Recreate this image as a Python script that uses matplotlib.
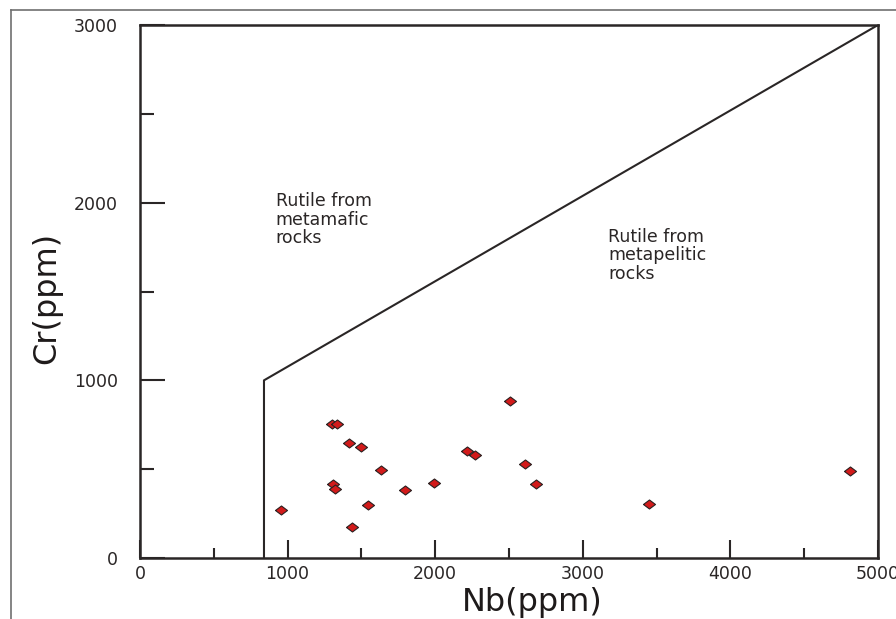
import matplotlib.pyplot as plt
from matplotlib.lines import Line2D

plt.rcParams['font.family'] = ['DejaVu Sans']

# data
nb = [955, 1303, 1332, 1418, 1500, 1630, 1310, 1323, 1547, 1439,
      1797, 1992, 2215, 2270, 2507, 2611, 2683, 3451, 4808]
cr = [272, 756, 756, 647, 623, 497, 416, 388, 300, 176,
      384, 420, 604, 578, 885, 531, 416, 306, 491]

# field boundary
bound_x = [840, 840, 5000]
bound_y = [0, 1000, 3000]

fig = plt.figure(figsize=(8.96, 6.19), dpi=100, facecolor='white')
ax = fig.add_axes([140/896, 1 - 558/619, 738/896, 533/619])

ink = '#2a2626'
diamond = [(-1, 0), (0, 0.75), (1, 0), (0, -0.75), (-1, 0)]

ax.plot(bound_x, bound_y, color=ink, linewidth=1.5)
ax.scatter(nb, cr, marker=diamond, s=75, color='#d21a1a', edgecolors='#2a2020',
           linewidths=0.8, zorder=3)

ax.set_xlim(0, 5000)
ax.set_ylim(0, 3000)
ax.set_xticks([0, 1000, 2000, 3000, 4000, 5000])
ax.set_xticks([500, 1500, 2500, 3500, 4500], minor=True)
ax.set_yticks([0, 1000, 2000, 3000])
ax.set_yticks([500, 1500, 2500], minor=True)

for s in ax.spines.values():
    s.set_color(ink)
    s.set_linewidth(1.8)

ax.tick_params(axis='x', which='major', direction='in', length=13, width=1.5,
               color=ink, labelsize=12.5, pad=5, labelcolor=ink)
ax.tick_params(axis='x', which='minor', direction='in', length=7, width=1.5,
               color=ink)
ax.tick_params(axis='y', which='major', direction='in', length=18, width=1.5,
               color=ink, labelsize=12.5, pad=16, labelcolor=ink)
ax.tick_params(axis='y', which='minor', direction='in', length=10, width=1.5,
               color=ink)

ax.text(920, 2060, 'Rutile from\nmetamafic\nrocks', fontsize=12.5,
        va='top', ha='left', linespacing=1.05, color=ink)
ax.text(3170, 1860, 'Rutile from\nmetapelitic\nrocks', fontsize=12.5,
        va='top', ha='left', linespacing=1.05, color=ink)

fig.text(532/896, 1 - 611/619, 'Nb(ppm)', fontsize=23, ha='center',
         va='baseline', color='#1e1a1a')
fig.text(47/896, 1 - 298/619, 'Cr(ppm)', fontsize=23, ha='center',
         va='center', rotation=90, color='#1e1a1a')

# outer frame (left and top only, the right and bottom are cropped)
fig.add_artist(Line2D([11/896, 11/896], [0, 1 - 10/619],
                      transform=fig.transFigure, color='#707070', linewidth=1.2))
fig.add_artist(Line2D([11/896, 1], [1 - 10/619, 1 - 10/619],
                      transform=fig.transFigure, color='#707070', linewidth=1.2))

fig.savefig('out.png', dpi=100, facecolor='white')
